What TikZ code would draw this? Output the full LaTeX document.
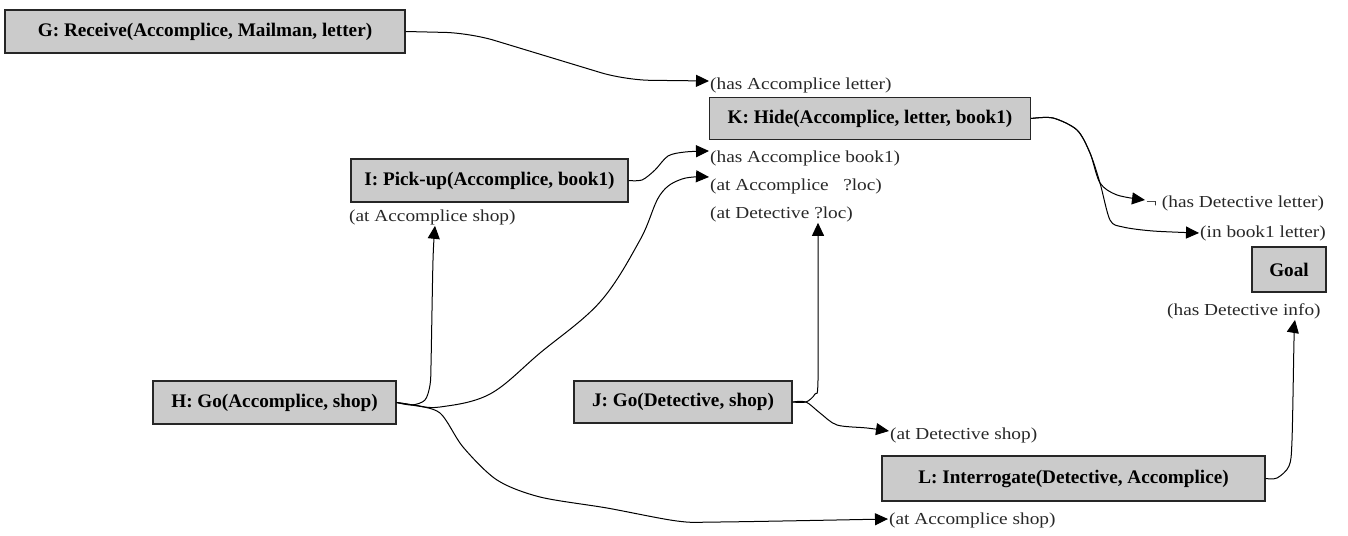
\documentclass[tikz,border=0pt]{standalone}
\usepackage{fontspec}
\setmainfont{Liberation Serif}
\newfontfamily\labelfont{Liberation Serif}[FakeStretch=1.15]
\usetikzlibrary{arrows.meta}
\definecolor{boxgray}{RGB}{203,203,203}
\definecolor{labelgray}{RGB}{40,40,40}
\tikzset{
  stepbox/.style={draw=black!85, line width=1.3pt, fill=boxgray, inner sep=0pt,
    font=\fontsize{19.2}{22}\selectfont\bfseries, text=black},
  cond/.style={inner sep=1pt, anchor=west, font=\labelfont\fontsize{16.8}{19}\selectfont, text=labelgray},
  conn/.style={line width=1pt, black, -{Triangle[length=13pt,width=12pt]}},
}
\begin{document}
\begin{tikzpicture}[x=1pt,y=-1pt]
\useasboundingbox (0,0) rectangle (1348,535);
% operator boxes
\node[stepbox, minimum width=400pt, minimum height=43pt] (G) at (205,31.5) {G: Receive(Accomplice, Mailman, letter)};
\node[stepbox, minimum width=321pt, minimum height=42pt] (K) at (870,118.5) {K: Hide(Accomplice, letter, book1)};
\node[stepbox, minimum width=277pt, minimum height=43pt] (I) at (489.5,180.5) {I: Pick-up(Accomplice, book1)};
\node[stepbox, minimum width=243pt, minimum height=43pt] (H) at (274.5,402.5) {H: Go(Accomplice, shop)};
\node[stepbox, minimum width=218pt, minimum height=42pt] (J) at (683,402) {J: Go(Detective, shop)};
\node[stepbox, minimum width=383pt, minimum height=45pt] (L) at (1073.5,478.5) {L: Interrogate(Detective, Accomplice)};
\node[stepbox, minimum width=74pt, minimum height=45pt] (Goal) at (1289,269.5) {Goal};
% conditions
\node[cond] (hasletter) at (709,85) {(has Accomplice letter)};
\node[cond] (hasbook) at (709,158) {(has Accomplice book1)};
\node[cond] (atAccloc) at (709,186) {(at Accomplice\ \ \ ?loc)};
\node[cond] (atDetloc) at (709,214) {(at Detective ?loc)};
\node[cond] (atAccShopI) at (348,217) {(at Accomplice shop)};
\node[cond] (negDet) at (1145,203) {¬ (has Detective letter)};
\node[cond] (inbook) at (1199,233) {(in book1 letter)};
\node[cond] (hasDetInfo) at (1166,311) {(has Detective info)};
\node[cond] (atDetShop) at (889,435) {(at Detective shop)};
\node[cond] (atAccShopH) at (888,520) {(at Accomplice shop)};
% connectors
\draw[conn, rounded corners=25pt] (G.east) -- (470,33) -- (625,80) -- ([yshift=4pt]hasletter.west);
\draw[conn] plot[smooth, tension=0.5] coordinates {(I.east) (642,180) (655,170) (668,156) (685,152) ([yshift=7pt]hasbook.west)};
\draw[conn] plot[smooth, tension=0.6] coordinates {(H.east) (414,405) (440,407) (490,394) (540,353) (600,302) (640,240) (660,195) (682,179) ([yshift=9pt]atAccloc.west)};
\draw[conn] plot[smooth, tension=0.5] coordinates {(H.east) (412,405) (425,400) (430,385) (431,365) (433,260) ([xshift=87pt]atAccShopI.south west)};
\draw[conn] plot[smooth, tension=0.5] coordinates {(H.east) (412,405) (440,413) (463,447) (497,480) (540,497) (607,508) (677,521) (720,522) ([yshift=1pt]atAccShopH.west)};
\draw[conn] plot[smooth, tension=0.5] coordinates {(J.east) (806,402) (815,394) (818,380) (818,250) ([xshift=109pt]atDetloc.south west)};
\draw[conn] plot[smooth, tension=0.5] coordinates {(J.east) (806,402) (820,413) (837,425) (867,428) ([yshift=4pt]atDetShop.west)};
\draw[conn] plot[smooth, tension=0.5] coordinates {(K.east) (1053,118) (1077,130) (1090,153) (1100,183) (1117,195) ([yshift=3pt]negDet.west)};
\draw[conn] plot[smooth, tension=0.5] coordinates {(K.east) (1053,118) (1077,130) (1090,153) (1100,183) (1110,220) (1123,227) (1153,231) (inbook.west)};
\draw[conn] plot[smooth, tension=0.5] coordinates {(L.east) (1277,478) (1289,466) (1292,440) (1294,340) ([xshift=129pt]hasDetInfo.south west)};
\end{tikzpicture}
\end{document}
